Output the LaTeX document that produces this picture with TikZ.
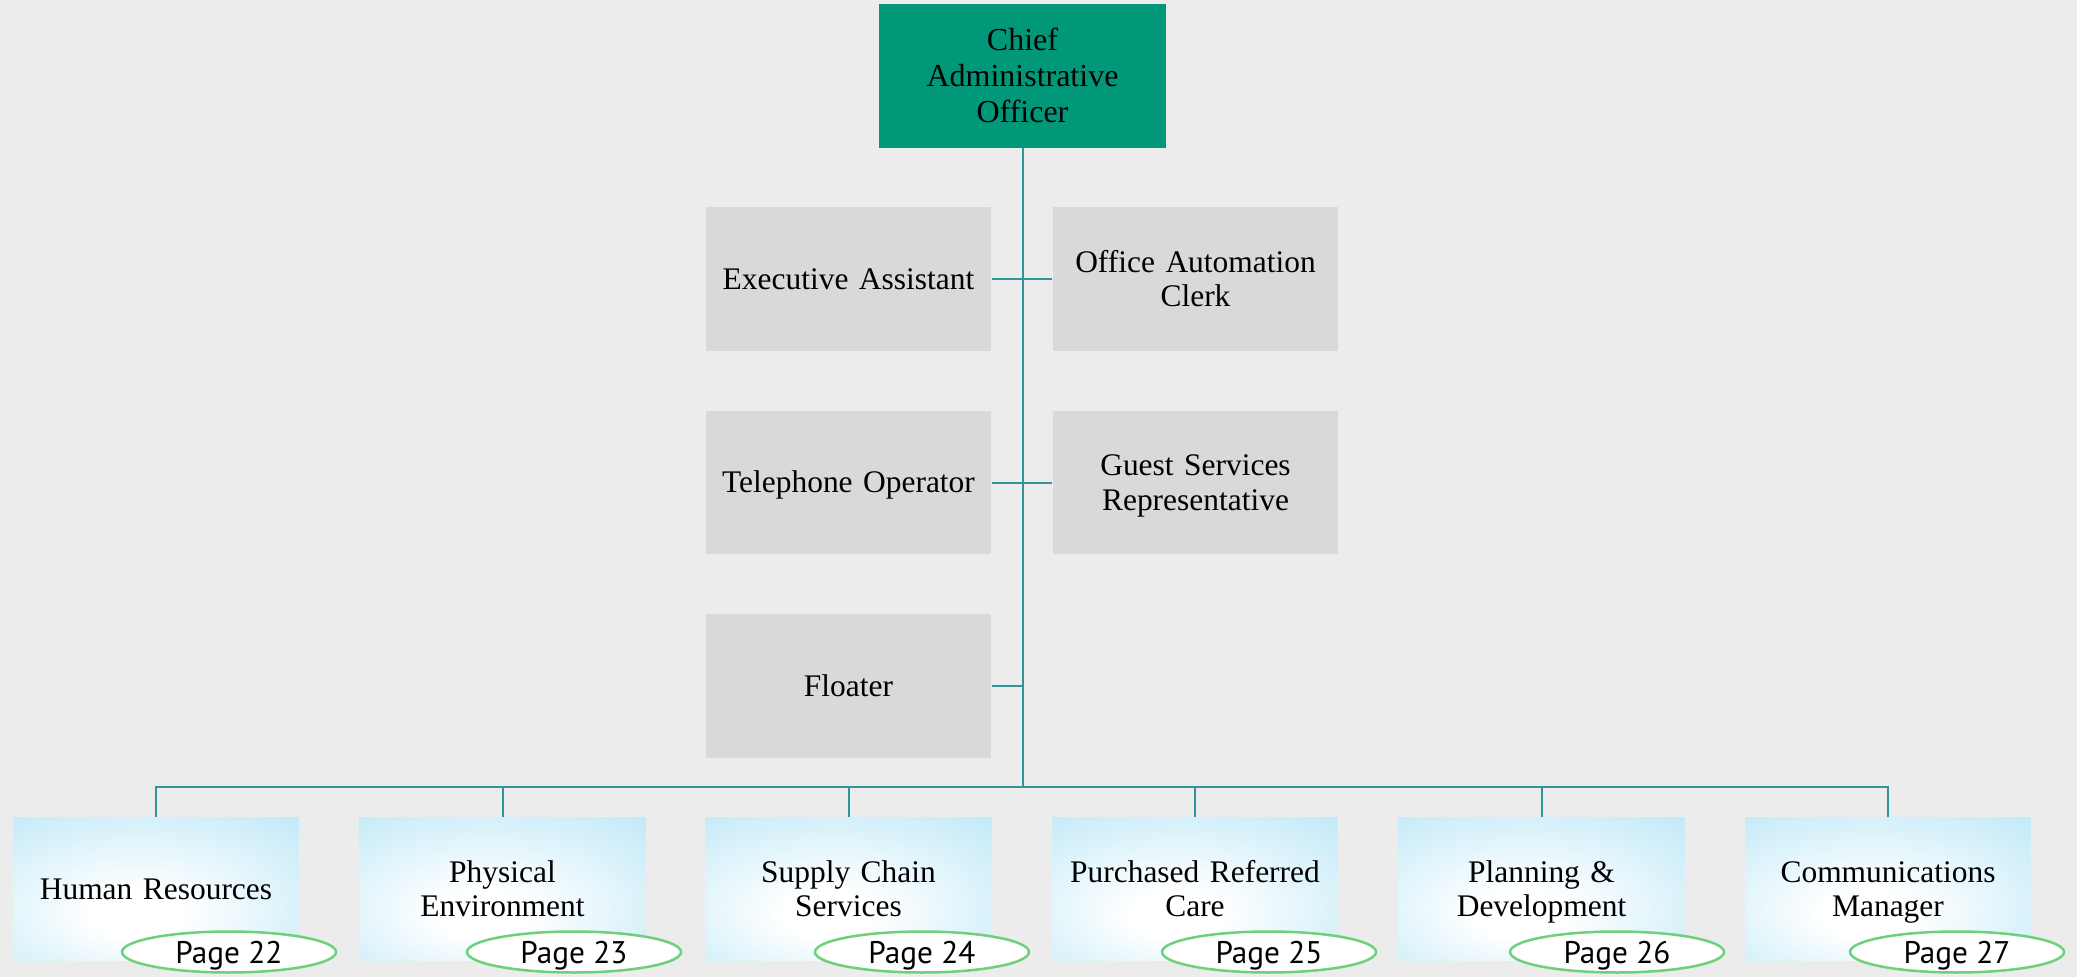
\documentclass[tikz,border=0pt]{standalone}
\usepackage{fontspec}
\setmainfont{Liberation Serif}
\newfontfamily\pagefont{PT Sans}
\usetikzlibrary{positioning,shapes.geometric}

\definecolor{bgcol}{HTML}{ECECEC}
\definecolor{linecol}{HTML}{33929C}
\definecolor{headcol}{HTML}{009878}
\definecolor{staffcol}{HTML}{D9D9D9}
\definecolor{glowcol}{HTML}{BDE8F7}
\definecolor{ringcol}{HTML}{6DD07B}

\pgfdeclareradialshading{boxglow}{\pgfpoint{-4bp}{-10bp}}{%
  color(0bp)=(white); color(8bp)=(white); color(42bp)=(glowcol); color(70bp)=(glowcol)}

\tikzset{
  unit/.style={rectangle, minimum width=5.72cm, minimum height=2.88cm, inner sep=2pt,
    text width=5.5cm, align=center, font=\fontsize{17.9}{19.4}\selectfont,
    execute at begin node={\rule{0pt}{17.7pt}},
    execute at end node={\rule[-5.8pt]{0pt}{5.8pt}}},
  headbox/.style={unit, fill=headcol, minimum width=5.74cm, font=\fontsize{18.2}{20.5}\selectfont},
  staffbox/.style={unit, fill=staffcol},
  deptbox/.style={unit, shading=boxglow},
  pagetag/.style={ellipse, draw=ringcol, line width=0.05cm, fill=white, minimum width=4.28cm,
    minimum height=0.82cm, inner sep=0pt, text height=12.6pt, text depth=0pt,
    font=\pagefont\fontsize{17.8}{18}\selectfont},
  link/.style={draw=linecol, line width=0.04cm}
}

\begin{document}
\begin{tikzpicture}[x=0.02cm, y=-0.02cm]
\fill[bgcol] (0,0) rectangle (2077,977);

% top of the chart
\node[headbox] (cao) at (1022.5,76) {Chief\\Administrative\\Officer};

% staff reporting directly
\node[staffbox] (exec) at (848.5,279) {Executive Assistant};
\node[staffbox] (clerk) at (1195.5,279) {Office Automation\\Clerk};
\node[staffbox] (phone) at (848.5,482.5) {Telephone Operator};
\node[staffbox] (guest) at (1195.5,482.5) {Guest Services\\Representative};
\node[staffbox] (floater) at (848.5,686) {Floater};

% departments
\node[deptbox] (hr) at (156,889) {Human Resources};
\node[deptbox] (phys) at (502.5,889) {Physical\\Environment};
\node[deptbox] (supply) at (848.5,889) {Supply Chain\\Services};
\node[deptbox] (prc) at (1195,889) {Purchased Referred\\Care};
\node[deptbox] (plan) at (1541.5,889) {Planning \&\\Development};
\node[deptbox] (comm) at (1888,889) {Communications\\Manager};

\coordinate (bus) at (1022.5,787);

% connectors
\draw[link] (cao.south) -- (bus);
\draw[link] (exec.east) -- (clerk.west);
\draw[link] (phone.east) -- (guest.west);
\draw[link] (floater.east) -- (floater.east -| bus);
\draw[link] (hr.north) |- (bus) -| (comm.north);
\draw[link] (phys.north) -- (phys.north |- bus);
\draw[link] (supply.north) -- (supply.north |- bus);
\draw[link] (prc.north) -- (prc.north |- bus);
\draw[link] (plan.north) -- (plan.north |- bus);

% page references
\node[pagetag] (p22) at (229,952) {Page 22};
\node[pagetag] (p23) at (574,952) {Page 23};
\node[pagetag] (p24) at (922,952) {Page 24};
\node[pagetag] (p25) at (1269,952) {Page 25};
\node[pagetag] (p26) at (1617,952) {Page 26};
\node[pagetag] (p27) at (1957,952) {Page 27};
\end{tikzpicture}
\end{document}
